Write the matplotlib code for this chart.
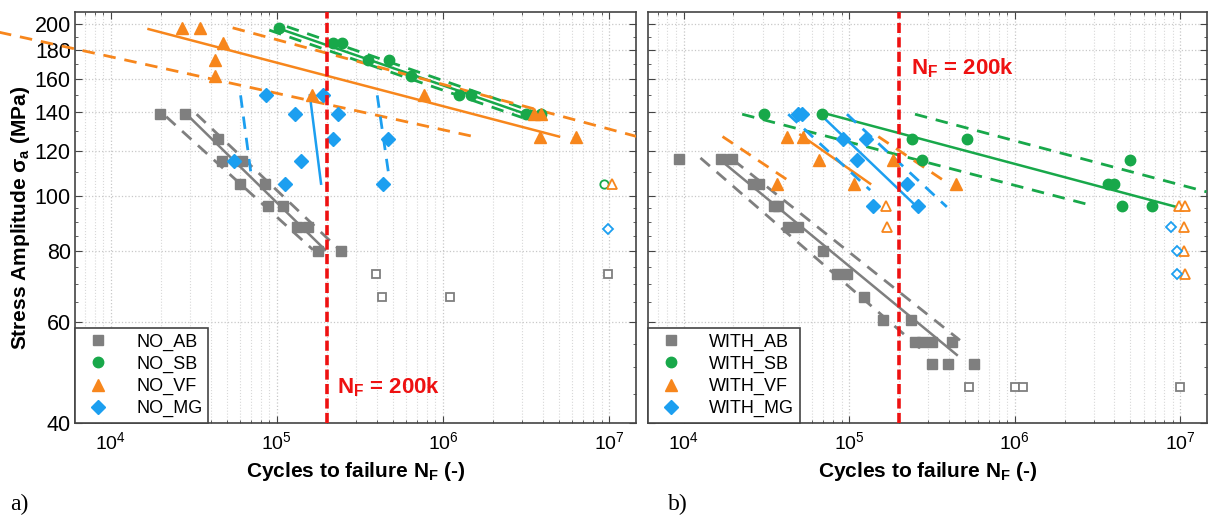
import matplotlib
matplotlib.use("Agg")
import matplotlib.pyplot as plt
from matplotlib.lines import Line2D
from matplotlib.ticker import LogLocator, FixedLocator, NullFormatter, FixedFormatter

plt.rcParams['font.family'] = ['Liberation Sans', 'DejaVu Sans']
plt.rcParams['mathtext.fontset'] = 'custom'
plt.rcParams['mathtext.rm'] = 'Liberation Sans'
plt.rcParams['mathtext.bf'] = 'Liberation Sans:bold'

# colours
c_ab = '#7f7f7f'
c_sb = '#18a84a'
c_vf = '#f7861c'
c_mg = '#1c9ff0'

# ---- panel a) NO ----
no_ab_n = [19900, 28200, 44100, 46600, 61500, 59800, 84600, 88300, 108600, 132000, 154000, 177000, 244000]
no_ab_s = [139, 139, 126, 115, 115, 105, 105, 96, 96, 88, 88, 80, 80]
no_ab_run_n = [395000, 430000, 1.1e6, 9.8e6]
no_ab_run_s = [73, 66.5, 66.5, 73]

no_sb_n = [103000, 218000, 247000, 355000, 475000, 646000, 1.24e6, 1.47e6, 3.16e6, 3.9e6]
no_sb_s = [197, 185, 185, 173, 173, 162, 150, 150, 139, 139]
no_sb_run_n = [9.3e6]
no_sb_run_s = [105]

no_vf_n = [26700, 34700, 47200, 42600, 42600, 162000, 773000, 3.52e6, 3.88e6, 3.83e6, 6.3e6]
no_vf_s = [197, 197, 185, 173, 162, 150, 150, 139, 139, 127, 127]
no_vf_run_n = [1.04e7]
no_vf_run_s = [105]

no_mg_n = [55000, 85900, 128000, 140000, 112000, 190000, 218000, 233000, 437000, 469000]
no_mg_s = [115, 150, 139, 115, 105, 150, 126, 139, 105, 126]
no_mg_run_n = [9.86e6]
no_mg_run_s = [87.5]

# fitted lines (mean, upper, lower): [n1, n2], [s1, s2]
no_ab_fit = ([28600, 195000], [139, 80.4])
no_ab_up = ([32900, 247000], [139, 79.6])
no_ab_lo = ([21600, 165000], [137.6, 80.4])
no_sb_fit = ([100000, 3.24e6], [197, 138.7])
no_sb_up = ([115000, 3.8e6], [198, 139.2])
no_sb_lo = ([90000, 3.0e6], [195.2, 137.1])
no_vf_fit = ([16900, 4.99e6], [196, 127])
no_vf_up = ([54200, 1.47e7], [197, 127])
no_vf_lo = ([2120, 1.53e6], [193.6, 127])
no_mg_fit = ([158000, 184500], [150, 105])
no_mg_d1 = ([60500, 69700], [150, 110])
no_mg_d2 = ([402000, 469000], [150, 110])

# ---- panel b) WITH ----
with_ab_n = [9330, 16900, 19500, 26400, 28700, 35300, 37300, 42900, 49300, 69700, 84700, 97200,
             123000, 160000, 236000, 250000, 275000, 316000, 417000, 316000, 394000, 566000]
with_ab_s = [116, 116, 116, 105, 105, 96, 96, 88, 88, 80, 73, 73,
             66.5, 60.5, 60.5, 55.3, 55.3, 55.3, 55.3, 50.6, 50.6, 50.6]
with_ab_run_n = [528000, 1.0e6, 1.12e6, 1.0e7]
with_ab_run_s = [46.2, 46.2, 46.2, 46.2]

with_sb_n = [30800, 68700, 240000, 275000, 514000, 3.68e6, 4.0e6, 5.0e6, 4.47e6, 6.77e6]
with_sb_s = [139, 139, 126, 115.5, 126, 105, 105, 115.5, 96, 96]

with_vf_n = [42400, 52800, 65900, 184000, 36800, 107000, 442000]
with_vf_s = [127, 127, 115.5, 115.5, 105, 105, 105]
with_vf_run_n = [167000, 169000, 9.8e6, 1.07e7, 1.05e7, 1.05e7, 1.07e7]
with_vf_run_s = [96, 88, 96, 96, 88, 80, 73]

with_mg_n = [49300, 52100, 92000, 127000, 112000, 223000, 140000, 261000]
with_mg_s = [139, 139, 126, 126, 115.5, 105, 96, 96]
with_mg_run_n = [8.8e6, 9.6e6, 9.5e6]
with_mg_run_s = [88, 80, 73]

with_ab_fit = ([16700, 447000], [115.5, 52.6])
with_ab_up = ([20000, 467000], [115.5, 55.8])
with_ab_lo = ([12650, 275000], [116.5, 53.7])
with_sb_fit = ([74700, 9.46e6], [139, 95.6])
with_sb_up = ([250000, 1.44e7], [139, 101.6])
with_sb_lo = ([22600, 2.83e6], [139, 96.4])
with_vf_fit = ([50700, 134000], [127.9, 105])
with_vf_up = ([150000, 368000], [127, 106.6])
with_vf_lo = ([17200, 42400], [127, 106.6])
with_mg_fit = ([66800, 257000], [139, 95.6])
with_mg_up = ([97000, 389000], [139, 95.6])
with_mg_lo = ([42900, 134000], [139, 102.3])

n_limit = 2e5
y_ticks = [40, 60, 80, 100, 120, 140, 160, 180, 200]
y_minor = [45, 50, 55, 65, 70, 75, 85, 90, 95, 110, 130, 150, 170, 190]
dash = (0, (4.5, 3.2))

fig = plt.figure(figsize=(12.08, 5.19), dpi=100)
bot = 1 - 422.7 / 519
hgt = (422.7 - 12) / 519
ax1 = fig.add_axes([75 / 1208, bot, 561 / 1208, hgt])
ax2 = fig.add_axes([648 / 1208, bot, 559 / 1208, hgt])


def draw_fit(ax, line, color, ls='-', clip=True):
    lw = 2.0 if ls != '-' else 1.8
    ax.plot(line[0], line[1], color=color, lw=lw, ls=ls, zorder=3, clip_on=clip)


def draw_pts(ax, n, s, color, marker, ms, filled=True):
    if filled:
        ax.plot(n, s, ls='none', marker=marker, ms=ms, color=color, mec=color, zorder=5)
    else:
        ax.plot(n, s, ls='none', marker=marker, ms=ms - 1.5, mfc='white', mec=color, mew=1.3, zorder=5)


# panel a
for ln in [no_ab_up, no_ab_lo]:
    draw_fit(ax1, ln, c_ab, dash)
draw_fit(ax1, no_ab_fit, c_ab)
for ln in [no_sb_up, no_sb_lo]:
    draw_fit(ax1, ln, c_sb, dash)
draw_fit(ax1, no_sb_fit, c_sb)
draw_fit(ax1, no_vf_up, c_vf, dash)
draw_fit(ax1, no_vf_lo, c_vf, dash, clip=False)
draw_fit(ax1, no_vf_fit, c_vf)
for ln in [no_mg_d1, no_mg_d2]:
    draw_fit(ax1, ln, c_mg, dash)
draw_fit(ax1, no_mg_fit, c_mg)

draw_pts(ax1, no_ab_n, no_ab_s, c_ab, 's', 7)
draw_pts(ax1, no_ab_run_n, no_ab_run_s, c_ab, 's', 7, False)
draw_pts(ax1, no_sb_n, no_sb_s, c_sb, 'o', 7.5)
draw_pts(ax1, no_sb_run_n, no_sb_run_s, c_sb, 'o', 7.5, False)
draw_pts(ax1, no_vf_n, no_vf_s, c_vf, '^', 8.5)
draw_pts(ax1, no_vf_run_n, no_vf_run_s, c_vf, '^', 8.5, False)
draw_pts(ax1, no_mg_n, no_mg_s, c_mg, 'D', 7)
draw_pts(ax1, no_mg_run_n, no_mg_run_s, c_mg, 'D', 7, False)

# panel b
for ln in [with_ab_up, with_ab_lo]:
    draw_fit(ax2, ln, c_ab, dash)
draw_fit(ax2, with_ab_fit, c_ab)
for ln in [with_sb_up, with_sb_lo]:
    draw_fit(ax2, ln, c_sb, dash)
draw_fit(ax2, with_sb_fit, c_sb)
for ln in [with_vf_up, with_vf_lo]:
    draw_fit(ax2, ln, c_vf, dash)
draw_fit(ax2, with_vf_fit, c_vf)
for ln in [with_mg_up, with_mg_lo]:
    draw_fit(ax2, ln, c_mg, dash)
draw_fit(ax2, with_mg_fit, c_mg)

draw_pts(ax2, with_ab_n, with_ab_s, c_ab, 's', 7)
draw_pts(ax2, with_ab_run_n, with_ab_run_s, c_ab, 's', 7, False)
draw_pts(ax2, with_sb_n, with_sb_s, c_sb, 'o', 7.5)
draw_pts(ax2, with_vf_n, with_vf_s, c_vf, '^', 8.5)
draw_pts(ax2, with_vf_run_n, with_vf_run_s, c_vf, '^', 8.5, False)
draw_pts(ax2, with_mg_n, with_mg_s, c_mg, 'D', 7)
draw_pts(ax2, with_mg_run_n, with_mg_run_s, c_mg, 'D', 7, False)

for ax, prefix in [(ax1, 'NO'), (ax2, 'WITH')]:
    ax.set_xscale('log')
    ax.set_yscale('log')
    ax.set_xlim(6.1e3, 1.45e7)
    ax.set_ylim(40, 210)
    ax.xaxis.set_major_locator(LogLocator(base=10, numticks=10))
    ax.xaxis.set_minor_locator(LogLocator(base=10, subs=range(2, 10), numticks=20))
    ax.xaxis.set_minor_formatter(NullFormatter())
    ax.yaxis.set_major_locator(FixedLocator(y_ticks))
    ax.yaxis.set_minor_locator(FixedLocator(y_minor))
    ax.yaxis.set_minor_formatter(NullFormatter())
    ax.grid(True, which='major', axis='both', ls=':', color='#c8c8c8', lw=0.9)
    ax.grid(True, which='minor', axis='x', ls=':', color='#d8d8d8', lw=0.8)
    ax.tick_params(which='both', direction='in', top=True, right=True, color='#444444')
    ax.tick_params(which='major', length=5, labelsize=14, pad=6)
    ax.tick_params(axis='y', which='major', labelsize=15.5, pad=3)
    ax.tick_params(which='minor', length=2.5)
    for sp in ax.spines.values():
        sp.set_color('#444444')
        sp.set_linewidth(1.2)
    ax.axvline(n_limit, color='#ee1111', lw=2.6, ls=(0, (2.8, 1.2)), zorder=6)
    ax.set_xlabel('Cycles to failure N$_\\mathbf{F}$ (-)', fontsize=15, fontweight='bold', labelpad=5)
    handles = [
        Line2D([], [], ls='none', marker='s', ms=7, color=c_ab),
        Line2D([], [], ls='none', marker='o', ms=7.5, color=c_sb),
        Line2D([], [], ls='none', marker='^', ms=9, color=c_vf),
        Line2D([], [], ls='none', marker='D', ms=7, color=c_mg),
    ]
    labels = [prefix + '_AB', prefix + '_SB', prefix + '_VF', prefix + '_MG']
    leg = ax.legend(handles, labels, loc='lower left', borderaxespad=0, fancybox=False,
                    edgecolor='#444444', framealpha=1, fontsize=13, handletextpad=1.2,
                    labelspacing=0.28, borderpad=0.3, handlelength=1.9)
    leg.get_frame().set_linewidth(1.2)
    leg.set_zorder(10)

ax1.yaxis.set_major_formatter(FixedFormatter([str(v) for v in y_ticks]))
ax1.set_ylabel('Stress Amplitude σ$_\\mathbf{a}$ (MPa)', fontsize=15, fontweight='bold', labelpad=2)
ax2.tick_params(labelleft=False)

ax1.text(2.3e5, 45.0, 'N$_\\mathbf{F}$ = 200k', color='#ee1111', fontsize=16, fontweight='bold',
         va='baseline', zorder=7)
ax2.text(2.35e5, 163, 'N$_\\mathbf{F}$ = 200k', color='#ee1111', fontsize=16, fontweight='bold',
         va='baseline', zorder=7)

fig.text(10 / 1208, 1 - 510 / 519, 'a)', family='Liberation Serif', fontsize=17)
fig.text(668 / 1208, 1 - 510 / 519, 'b)', family='Liberation Serif', fontsize=17)

fig.savefig('out.png', dpi=100)
